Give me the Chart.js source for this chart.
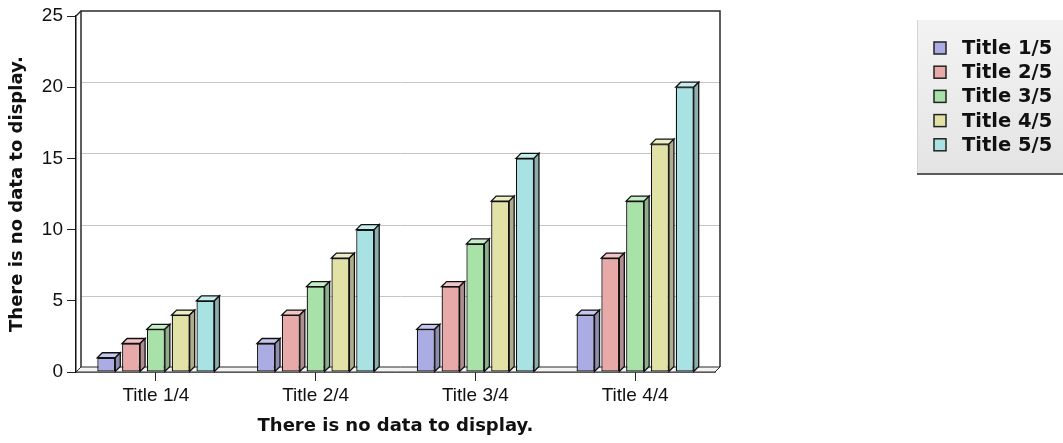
<!DOCTYPE html>
<html>
<head>
<meta charset="utf-8">
<script src="https://cdn.jsdelivr.net/npm/chart.js@4"></script>
<style>
  html, body { margin: 0; padding: 0; background: #fff; }
  canvas { display: block; }
</style>
</head>
<body>
<canvas id="chart" width="1063" height="443"></canvas>
<script>
// ---- data ----
const categories = ['Title 1/4', 'Title 2/4', 'Title 3/4', 'Title 4/4'];
const seriesNames = ['Title 1/5', 'Title 2/5', 'Title 3/5', 'Title 4/5', 'Title 5/5'];
const series1 = [1, 2, 3, 4];
const series2 = [2, 4, 6, 8];
const series3 = [3, 6, 9, 12];
const series4 = [4, 8, 12, 16];
const series5 = [5, 10, 15, 20];
const yTicks = [0, 5, 10, 15, 20, 25];
const axisTitle = 'There is no data to display.';

// ---- look ----
const palette = [
  { front: '#acace4', top: '#c6c6ef', side: '#8e8eae' },
  { front: '#e8a9a9', top: '#f2c4c4', side: '#ae8e8e' },
  { front: '#a9e2a9', top: '#c4eec4', side: '#8eae8e' },
  { front: '#e2e2a6', top: '#eeeec4', side: '#aeae8e' },
  { front: '#a9e2e2', top: '#c4eeee', side: '#8eaeae' }
];
const DEPTH = 5;
const INK = '#111';
const tickFont = { family: '"Liberation Sans", Arial, sans-serif', size: 19 };
const titleFont = { family: '"DejaVu Sans", Verdana, sans-serif', size: 18, weight: 'bold' };

const seriesValues = [series1, series2, series3, series4, series5];

function poly(ctx, pts, fill) {
  ctx.beginPath();
  ctx.moveTo(pts[0][0], pts[0][1]);
  for (let i = 1; i < pts.length; i++) ctx.lineTo(pts[i][0], pts[i][1]);
  ctx.closePath();
  ctx.fillStyle = fill;
  ctx.fill();
  ctx.stroke();
}

function seg(ctx, x1, y1, x2, y2) {
  ctx.beginPath();
  ctx.moveTo(x1, y1);
  ctx.lineTo(x2, y2);
  ctx.stroke();
}

// Back wall, floor and the extruded faces of each bar
const depthPlugin = {
  id: 'depth3d',
  beforeDatasetsDraw(chart) {
    const { ctx, chartArea: a, scales: { y } } = chart;
    const D = DEPTH;
    ctx.save();
    // light floor strip
    ctx.strokeStyle = '#2a2a2a';
    ctx.lineWidth = 1;
    poly(ctx, [[a.left, a.bottom], [a.left + D, a.bottom - D], [a.right + D, a.bottom - D], [a.right, a.bottom]], '#f3f3f3');
    // grid lines on the back wall
    ctx.strokeStyle = '#c6c6c6';
    ctx.lineWidth = 1;
    yTicks.forEach(v => {
      if (v === y.min || v === y.max) return;
      const py = Math.round(y.getPixelForValue(v) - D) + 0.5;
      seg(ctx, a.left + D, py, a.right + D, py);
    });
    // wall outline
    ctx.strokeStyle = '#2a2a2a';
    ctx.lineWidth = 1.5;
    ctx.beginPath();
    ctx.moveTo(a.left + D, a.bottom - D);
    ctx.lineTo(a.left + D, a.top - D);
    ctx.lineTo(a.right + D, a.top - D);
    ctx.lineTo(a.right + D, a.bottom - D);
    ctx.stroke();
    seg(ctx, a.left, a.top, a.left + D, a.top - D);
    ctx.restore();
  },
  afterDatasetsDraw(chart) {
    const ctx = chart.ctx;
    const D = DEPTH;
    ctx.save();
    ctx.strokeStyle = INK;
    ctx.lineWidth = 1.3;
    ctx.lineJoin = 'miter';
    chart.data.datasets.forEach((ds, i) => {
      const col = palette[i];
      chart.getDatasetMeta(i).data.forEach(bar => {
        const { x, y, base, width } = bar.getProps(['x', 'y', 'base', 'width'], true);
        const l = x - width / 2, r = x + width / 2;
        poly(ctx, [[l, y], [l + D, y - D], [r + D, y - D], [r, y]], col.top);
        poly(ctx, [[r, y], [r + D, y - D], [r + D, base - D], [r, base]], col.side);
      });
    });
    ctx.restore();
  }
};

// Boxed legend on the right
const boxLegendPlugin = {
  id: 'boxLegend',
  afterDraw(chart) {
    const ctx = chart.ctx;
    const bx = 917, by = 20, bw = 160, bh = 153;
    ctx.save();
    const g = ctx.createLinearGradient(0, by, 0, by + bh);
    g.addColorStop(0, '#f3f3f3');
    g.addColorStop(1, '#e4e4e4');
    ctx.fillStyle = g;
    ctx.fillRect(bx, by, bw, bh);
    ctx.strokeStyle = '#d4d4d4';
    ctx.lineWidth = 1;
    seg(ctx, bx + 0.5, by, bx + 0.5, by + bh);
    ctx.strokeStyle = '#5a5a5a';
    ctx.lineWidth = 2;
    seg(ctx, bx, by + bh + 1, bx + bw, by + bh + 1);
    ctx.font = 'bold 19.5px "DejaVu Sans", Verdana, sans-serif';
    ctx.textBaseline = 'middle';
    ctx.textAlign = 'left';
    chart.data.datasets.forEach((ds, i) => {
      const cy = by + 28 + i * 24.2;
      ctx.fillStyle = palette[i].front;
      ctx.fillRect(934, cy - 6, 12, 12);
      ctx.strokeStyle = '#222';
      ctx.lineWidth = 1.5;
      ctx.strokeRect(934, cy - 6, 12, 12);
      ctx.fillStyle = INK;
      ctx.fillText(ds.label, 962, cy + 1);
    });
    ctx.restore();
  }
};

new Chart(document.getElementById('chart'), {
  type: 'bar',
  data: {
    labels: categories,
    datasets: seriesNames.map((name, i) => ({
      label: name,
      data: seriesValues[i],
      backgroundColor: palette[i].front,
      borderColor: INK,
      borderWidth: 1.3,
      borderSkipped: false,
      categoryPercentage: 0.776,
      barPercentage: 0.726
    }))
  },
  options: {
    responsive: false,
    animation: false,
    layout: { padding: { left: 0, top: 16, right: 348, bottom: 0 } },
    plugins: {
      legend: { display: false },
      tooltip: { enabled: false }
    },
    scales: {
      x: {
        grid: { offset: false, drawOnChartArea: false, drawTicks: true, tickLength: 9, color: '#222' },
        border: { display: true, color: INK, width: 1.5 },
        ticks: { font: tickFont, color: INK, padding: 3 },
        title: { display: true, text: axisTitle, font: titleFont, color: INK, padding: { top: 6, bottom: 6 } },
        afterFit(s) { s.height = 71; }
      },
      y: {
        min: 0,
        max: 25,
        afterBuildTicks(s) { s.ticks = yTicks.map(v => ({ value: v })); },
        grid: { drawOnChartArea: false, drawTicks: true, tickLength: 9, color: '#222' },
        border: { display: true, color: INK, width: 1.5 },
        ticks: { font: tickFont, color: INK, padding: 4 },
        title: { display: true, text: axisTitle, font: titleFont, color: INK, padding: { top: 7, bottom: 7 } },
        afterFit(s) { s.width = 76; }
      }
    }
  },
  plugins: [depthPlugin, boxLegendPlugin]
});
</script>
</body>
</html>
